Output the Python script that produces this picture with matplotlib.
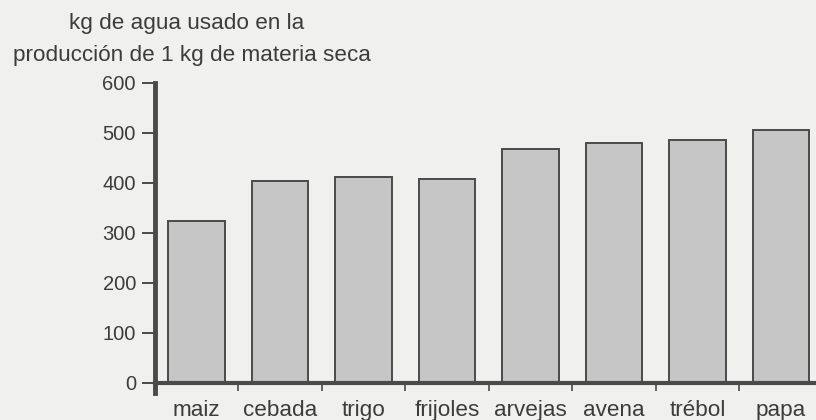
import matplotlib
matplotlib.use("Agg")
import matplotlib.pyplot as plt
import numpy as np

# Water required per kg of dry matter, by crop
cultivos = ["maiz", "cebada", "trigo", "frijoles", "arvejas", "avena", "trébol", "papa"]
kg_agua = [325, 404, 413, 409, 468, 480, 486, 507]
y_ticks = [0, 100, 200, 300, 400, 500, 600]
titulo = ["kg de agua usado en la", "producción de 1 kg de materia seca"]

BG = "#f0f0ef"
INK = "#3c3c3c"
AXIS = "#4a4a4a"
BAR = "#c6c6c6"
FONT = ["Liberation Sans", "DejaVu Sans"]
FS_TXT = 16.2
FS_Y = 14.5

plt.rcParams["font.family"] = FONT

fig = plt.figure(figsize=(8.16, 4.20), dpi=100, facecolor=BG)
W, H = 816, 420
left, right = 154.7 / W, 1.0
bottom, top = 1 - 393 / H, 1 - 83 / H
ax = fig.add_axes([left, bottom, right - left, top - bottom])
ax.set_facecolor(BG)

x = np.arange(len(cultivos))
ax.bar(x, kg_agua, width=0.68, color=BAR, edgecolor=AXIS, linewidth=1.4, zorder=2)

ax.set_xlim(-0.5, 7.42)
ax.set_ylim(-20, 600)

for s in ["top", "right"]:
    ax.spines[s].set_visible(False)
ax.spines["left"].set_color(AXIS)
ax.spines["left"].set_linewidth(3.5)
ax.spines["left"].set_bounds(-20, 600)
ax.spines["bottom"].set_position(("data", 0))
ax.spines["bottom"].set_color(AXIS)
ax.spines["bottom"].set_linewidth(3)
ax.spines["bottom"].set_zorder(3)

ax.set_yticks(y_ticks)
ax.set_yticklabels([str(v) for v in y_ticks], fontsize=FS_Y, color=INK)
ax.tick_params(axis="y", direction="out", length=9.5, width=1.4, color=AXIS, pad=4)

ax.set_xticks(x)
ax.set_xticklabels(cultivos, fontsize=FS_TXT, color=INK)
ax.tick_params(axis="x", which="major", length=0, pad=12)
ax.set_xticks(x[:-1] + 0.5, minor=True)
ax.tick_params(axis="x", which="minor", direction="out", length=6, width=1.2, color=AXIS)

fig.text(187 / W, 1 - 24 / H, titulo[0], ha="center", va="center", fontsize=FS_TXT, color=INK)
fig.text(192 / W, 1 - 56 / H, titulo[1], ha="center", va="center", fontsize=FS_TXT, color=INK)

fig.savefig("out.png", dpi=100, facecolor=BG)
